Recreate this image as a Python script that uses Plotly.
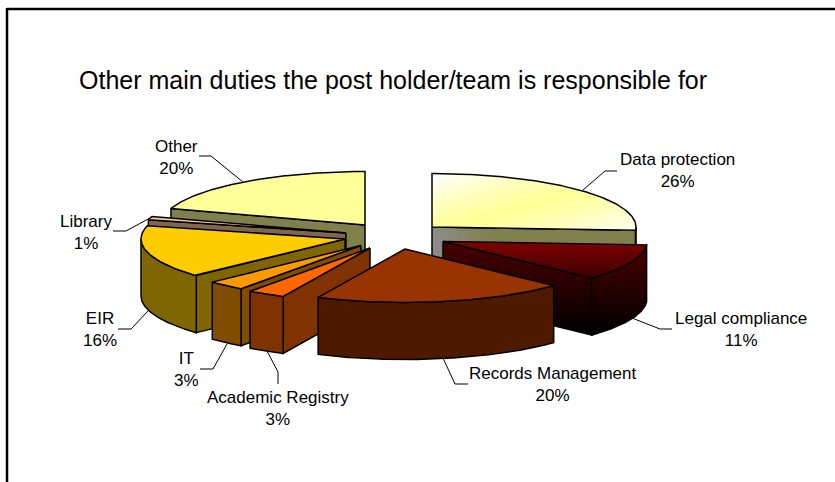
import numpy as np
import plotly.graph_objects as go

categories = ["Data protection", "Legal compliance", "Records Management", "Academic Registry",
              "IT", "EIR", "Library", "Other"]
shares = [26, 11, 20, 3, 3, 16, 1, 20]
title_text = "Other main duties the post holder/team is responsible for"

# Styles and layout (pixel space of the 835x482 page)
RX, RY, DEPTH = 204, 53.5, 57
top_colors = ["#FFFF99", "#800000", "#993300", "#FF6600", "#FF9900", "#FFCC00", "#FFCC99", "#FFFF99"]
wall_colors = ["#80804D", "#3A0000", "#4D1A00", "#803300", "#804D00", "#806600", "#806650", "#80804D"]
hubs = [(432, 227), (443, 241.5), (405, 249), (370, 248), (361, 245.5), (345, 239), (346, 233), (365, 225)]
paint_order = [7, 0, 6, 5, 4, 3, 1, 2]
label_pos = [(677, 170), (741, 329), (553, 384), (278, 408.5), (186, 369), (100, 329), (86, 232), (176, 157)]
leaders = [
    [(583, 190), (605, 171), (617, 171)],
    [(632, 318), (660, 329), (672, 329)],
    [(443, 358), (455, 384), (468, 384)],
    [(267, 351), (278, 372), (278, 384)],
    [(227, 344), (213, 369), (200, 369)],
    [(148, 311), (131, 329), (118, 329)],
    [(150, 218), (126, 231), (113, 231)],
    [(243, 182), (211, 156), (199, 156)],
]
SHEEN_NORMAL = (0.27, 0.96)
SHEEN_RANGE = (284, 338, 394)


def pt(hub, deg, drop=0.0):
    t = np.radians(deg)
    return hub[0] + RX * np.sin(t), hub[1] - RY * np.cos(t) + drop


def arc(hub, a, b, drop=0.0):
    ds = np.linspace(a, b, max(3, int(abs(b - a) * 2)))
    t = np.radians(ds)
    return list(hub[0] + RX * np.sin(t)), list(hub[1] - RY * np.cos(t) + drop)


def poly(xs, ys, color, grad=None):
    kw = dict(x=list(xs) + [xs[0]], y=list(ys) + [ys[0]], mode="lines", fill="toself",
              line=dict(color="black", width=1.5), hoverinfo="skip", showlegend=False)
    if grad:
        kw["fillgradient"] = grad
    else:
        kw["fillcolor"] = color
    return go.Scatter(**kw)


def clip_above(xs, ys, level):
    """Part of a convex polygon where the sheen coordinate is at least `level`."""
    nx, ny = SHEEN_NORMAL
    out_x, out_y = [], []
    n = len(xs)
    for k in range(n):
        x0, y0, x1, y1 = xs[k], ys[k], xs[(k + 1) % n], ys[(k + 1) % n]
        d0, d1 = nx * x0 + ny * y0 - level, nx * x1 + ny * y1 - level
        if d0 >= 0:
            out_x.append(x0)
            out_y.append(y0)
        if d0 * d1 < 0:
            f = d0 / (d0 - d1)
            out_x.append(x0 + f * (x1 - x0))
            out_y.append(y0 + f * (y1 - y0))
    return out_x, out_y


def sheen_color(level):
    lo, mid, hi = SHEEN_RANGE
    f = abs(level - mid) / (mid - lo if level < mid else hi - mid)
    f = min(1.0, f) ** 1.3
    return f"rgb(255,255,{int(153 + 102 * f)})"


edges = np.concatenate([[0], np.cumsum(shares)]) * 3.6
fig = go.Figure()

for i in paint_order:
    s, e, hub = edges[i], edges[i + 1], hubs[i]
    wall_grad = None
    top_grad = None
    if categories[i] == "Legal compliance":
        wall_grad = dict(type="vertical", colorscale=[[0, "#000000"], [1, "#4A0000"]])
        top_grad = dict(type="vertical", colorscale=[[0, "#3A0000"], [1, "#800000"]])
    # cut faces that look towards the viewer
    if np.sin(np.radians(s)) < -1e-6:
        x1, y1 = pt(hub, s)
        fig.add_trace(poly([hub[0], x1, x1, hub[0]], [hub[1], y1, y1 + DEPTH, hub[1] + DEPTH], wall_colors[i], wall_grad))
    if np.sin(np.radians(e)) > 1e-6:
        x1, y1 = pt(hub, e)
        g = wall_grad
        if categories[i] == "Data protection":
            g = dict(type="horizontal", colorscale=[[0, "#8C8C8C"], [0.3, "#80804D"], [1, "#80804D"]])
        fig.add_trace(poly([hub[0], x1, x1, hub[0]], [hub[1], y1, y1 + DEPTH, hub[1] + DEPTH], wall_colors[i], g))
    # rim
    a, b = max(s, 90), min(e, 270)
    if b > a:
        ux, uy = arc(hub, a, b)
        lx, ly = arc(hub, b, a, DEPTH)
        fig.add_trace(poly(ux + lx, uy + ly, wall_colors[i], wall_grad))
    # top
    ax, ay = arc(hub, s, e)
    tx, ty = [hub[0]] + ax, [hub[1]] + ay
    if categories[i] == "Data protection":
        for level in np.arange(SHEEN_RANGE[0], SHEEN_RANGE[2], 4.0):
            cx, cy = clip_above(tx, ty, level)
            if len(cx) >= 3:
                fig.add_trace(go.Scatter(x=cx + [cx[0]], y=cy + [cy[0]], mode="lines", fill="toself",
                                         fillcolor=sheen_color(level), line=dict(width=0),
                                         hoverinfo="skip", showlegend=False))
        fig.add_trace(go.Scatter(x=tx + [tx[0]], y=ty + [ty[0]], mode="lines",
                                 line=dict(color="black", width=1.5), hoverinfo="skip", showlegend=False))
    else:
        fig.add_trace(poly(tx, ty, top_colors[i], top_grad))

for path in leaders:
    fig.add_trace(go.Scatter(x=[p[0] for p in path], y=[p[1] for p in path], mode="lines",
                             line=dict(color="black", width=1), hoverinfo="skip", showlegend=False))

annotations = [
    dict(x=px, y=py, text=f"{name}<br>{v}%", showarrow=False, xref="x", yref="y",
         font=dict(family="Liberation Sans, Arial, sans-serif", size=17, color="black"), align="center")
    for name, v, (px, py) in zip(categories, shares, label_pos)
]
annotations.append(dict(x=77, y=80, text=title_text, showarrow=False, xref="x", yref="y", xanchor="left",
                        font=dict(family="Liberation Sans, Arial, sans-serif", size=25, color="black")))

fig.update_layout(
    width=835, height=482, autosize=False,
    margin=dict(l=0, r=0, t=0, b=0),
    paper_bgcolor="white", plot_bgcolor="white",
    showlegend=False,
    xaxis=dict(range=[0, 835], visible=False, fixedrange=True),
    yaxis=dict(range=[482, 0], visible=False, fixedrange=True),
    annotations=annotations,
    shapes=[
        dict(type="line", x0=7, x1=835, y0=9, y1=9, xref="x", yref="y", line=dict(color="black", width=2.5)),
        dict(type="line", x0=7, x1=7, y0=8, y1=482, xref="x", yref="y", line=dict(color="black", width=2.5)),
    ],
)
fig.write_html("out.html", config={"displayModeBar": False},
               post_script="document.body.style.margin='0';document.documentElement.style.overflow='hidden';")
